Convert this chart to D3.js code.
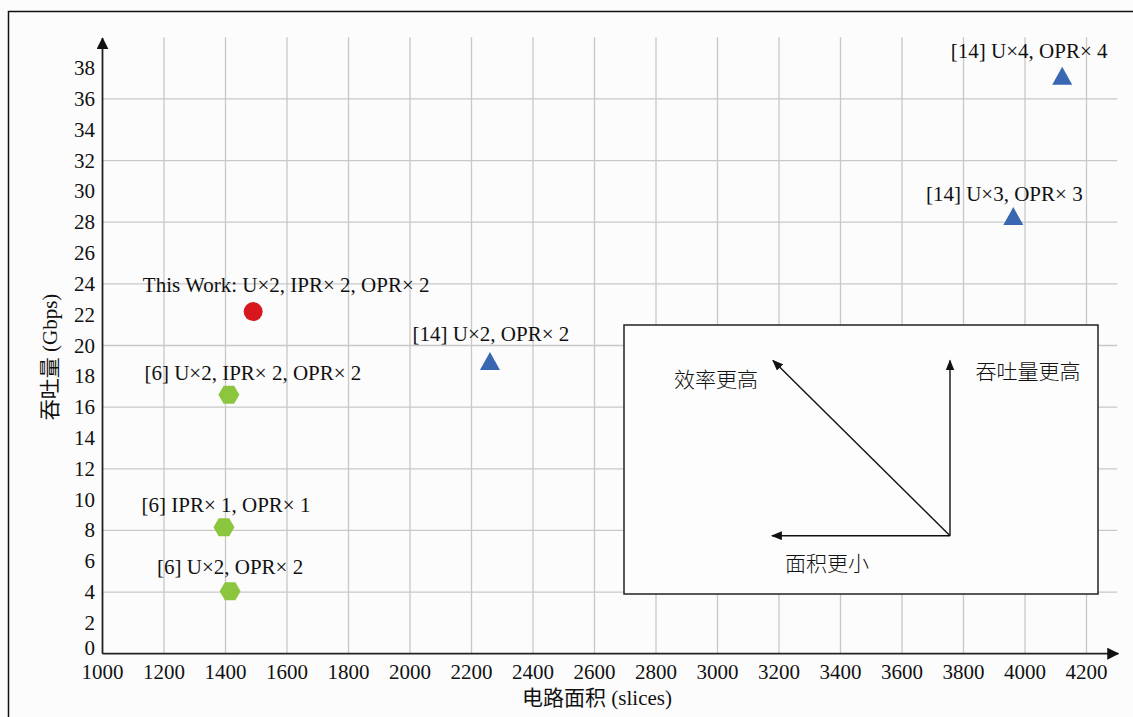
<!DOCTYPE html>
<html><head><meta charset="utf-8">
<script src="https://cdn.jsdelivr.net/npm/d3@7"></script>
<style>
html,body{margin:0;padding:0;background:#fcfcfc;}
svg{display:block;}
text{font-family:"Liberation Serif","Times New Roman","Noto Sans CJK SC",serif;fill:#111;}
</style></head>
<body>
<svg id="chart" width="1133" height="717"></svg>
<script>
// ---- data ----
const labels = ["This Work: U×2, IPR× 2, OPR× 2","[6] U×2, IPR× 2, OPR× 2","[6] IPR× 1, OPR× 1","[6] U×2, OPR× 2","[14] U×2, OPR× 2","[14] U×3, OPR× 3","[14] U×4, OPR× 4"];
const groups = ["this","ref6","ref6","ref6","ref14","ref14","ref14"];
const areas = [1490, 1411, 1395, 1415, 2260, 3962, 4121];
const throughputs = [22.2, 16.8, 8.2, 4.05, 19.0, 28.4, 37.5];
const xTicks = [1000,1200,1400,1600,1800,2000,2200,2400,2600,2800,3000,3200,3400,3600,3800,4000,4200];
const yTicks = [0,2,4,6,8,10,12,14,16,18,20,22,24,26,28,30,32,34,36,38];
const yGrid = [4,8,12,16,20,24,28,32,36];
const xTitle = "电路面积 (slices)";
const yTitle = "吞吐量 (Gbps)";
const insetTexts = ["效率更高","吞吐量更高","面积更小"];

// ---- layout ----
const labelDx = [33, 24, 2, 0, 1, -9, -33];
const labelDy = [-19.5, -15, -15.5, -17.5, -20, -15, -17.5];
const colors = {this:"#d7161d", ref6:"#8cc63f", ref14:"#3a67b1"};
const FS = 21;

const svg = d3.select("#chart");
const x = d3.scaleLinear().domain([1000, 4200]).range([102.5, 1086.5]);
const y = d3.scaleLinear().domain([0, 40]).range([653.7, 37.3]);

// outer frame (top and left edges)
svg.append("path").attr("d","M8.5,717 L8.5,11.5 L1133,11.5").attr("fill","none").attr("stroke","#111").attr("stroke-width",1.5);

const defs = svg.append("defs");
defs.append("marker").attr("id","axArrow").attr("viewBox","0 0 12 12").attr("refX",11).attr("refY",6)
  .attr("markerWidth",12).attr("markerHeight",12).attr("markerUnits","userSpaceOnUse").attr("orient","auto")
  .append("path").attr("d","M0,0 L12,6 L0,12 Z").attr("fill","#111");
defs.append("marker").attr("id","inArrow").attr("viewBox","0 0 10 8").attr("refX",9).attr("refY",4)
  .attr("markerWidth",11).attr("markerHeight",9).attr("markerUnits","userSpaceOnUse").attr("orient","auto")
  .append("path").attr("d","M0,0 L10,4 L0,8 Z").attr("fill","#111");

// grid
const g = svg.append("g");
g.selectAll("line.vg").data(xTicks.slice(1)).join("line")
  .attr("x1",d=>x(d)).attr("x2",d=>x(d)).attr("y1",y(40)).attr("y2",y(0))
  .attr("stroke","#c8c8c8").attr("stroke-width",1.3);
g.selectAll("line.hg").data(yGrid).join("line")
  .attr("x1",x(1000)).attr("x2",x(4300)).attr("y1",d=>y(d)).attr("y2",d=>y(d))
  .attr("stroke","#c8c8c8").attr("stroke-width",1.3);

// axes with arrows
svg.append("line").attr("x1",x(1000)).attr("y1",y(0)).attr("x2",x(4300)+1).attr("y2",y(0))
  .attr("stroke","#222").attr("stroke-width",1.8).attr("marker-end","url(#axArrow)");
svg.append("line").attr("x1",x(1000)).attr("y1",y(0)).attr("x2",x(1000)).attr("y2",y(40)+1)
  .attr("stroke","#222").attr("stroke-width",1.8).attr("marker-end","url(#axArrow)");

// tick labels
svg.selectAll("text.xt").data(xTicks).join("text")
  .attr("x",d=>x(d)).attr("y",y(0)+25).attr("text-anchor","middle").attr("font-size",FS).text(d=>d);
svg.selectAll("text.yt").data(yTicks).join("text")
  .attr("x",95).attr("y",d=>y(d)+(d===0?1:7)).attr("text-anchor","end").attr("font-size",FS).text(d=>d);

// axis titles
svg.append("text").attr("x",597).attr("y",705).attr("text-anchor","middle").attr("font-size",FS).text(xTitle);
svg.append("text").attr("transform","translate(57,357) rotate(-90)").attr("text-anchor","middle").attr("font-size",FS).text(yTitle);

// inset box
const ix = 624, iy = 325, iw = 474, ih = 269;
svg.append("rect").attr("x",ix).attr("y",iy).attr("width",iw).attr("height",ih)
  .attr("fill","#fdfdfd").attr("stroke","#222").attr("stroke-width",1.5);
const ox = 950, oy = 535.7;
const arrows = [[950,360.5],[773,360.5],[772,535.7]];
svg.selectAll("line.ia").data(arrows).join("line")
  .attr("x1",ox).attr("y1",oy).attr("x2",d=>d[0]).attr("y2",d=>d[1])
  .attr("stroke","#111").attr("stroke-width",1.4).attr("marker-end","url(#inArrow)");
const insetPos = [[716,387],[1028,379],[827,571]];
svg.selectAll("text.it").data(insetTexts).join("text")
  .attr("x",(d,i)=>insetPos[i][0]).attr("y",(d,i)=>insetPos[i][1]).attr("text-anchor","middle")
  .attr("font-size",21).style("font-family",'"Noto Sans CJK SC",sans-serif').attr("font-weight",300).text(d=>d);

// markers
const pts = labels.map((l,i)=>({label:l, g:groups[i], a:areas[i], t:throughputs[i], dx:labelDx[i], dy:labelDy[i]}));
const hex = (w,h)=>`M${-w/2},0 L${-w/4},${-h/2} L${w/4},${-h/2} L${w/2},0 L${w/4},${h/2} L${-w/4},${h/2} Z`;
const tri = (w,h)=>`M0,${-h/2} L${w/2},${h/2} L${-w/2},${h/2} Z`;
const mk = svg.append("g");
pts.forEach(p=>{
  const cx = x(p.a), cy = y(p.t);
  if(p.g==="this"){
    mk.append("circle").attr("cx",cx).attr("cy",cy).attr("r",9.5).attr("fill",colors.this);
  } else if(p.g==="ref6"){
    mk.append("path").attr("transform",`translate(${cx},${cy})`).attr("d",hex(21,18)).attr("fill",colors.ref6);
  } else {
    mk.append("path").attr("transform",`translate(${cx},${cy})`).attr("d",tri(20,18)).attr("fill",colors.ref14);
  }
  mk.append("text").attr("x",cx+p.dx).attr("y",cy+p.dy).attr("text-anchor","middle").attr("font-size",FS).text(p.label);
});
</script>
</body></html>
